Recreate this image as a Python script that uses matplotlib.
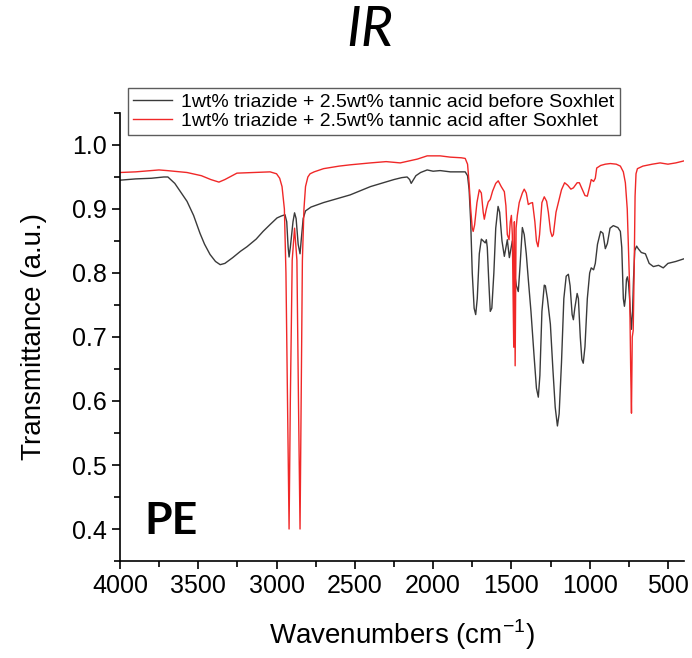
# IRスペクトル (PE) before / after Soxhlet
import matplotlib
matplotlib.use("Agg")
import matplotlib.pyplot as plt
from matplotlib import font_manager
from matplotlib.ticker import MultipleLocator

# before Soxhlet (black)
wn_before = [4000, 3900, 3800, 3720, 3694, 3650, 3600, 3572, 3530, 3489, 3460, 3425, 3390, 3360,
             3330, 3280, 3230, 3189, 3130, 3086, 3040, 2997, 2970, 2946, 2935, 2926, 2920, 2912,
             2895, 2885, 2875, 2862, 2850, 2843, 2830, 2815, 2780, 2700, 2600, 2530, 2450, 2400,
             2319, 2250, 2200, 2166, 2150, 2140, 2130, 2110, 2080, 2038, 2000, 1955, 1890, 1820,
             1795, 1780, 1770, 1760, 1750, 1738, 1728, 1718, 1705, 1692, 1679, 1667, 1660, 1654,
             1645, 1635, 1625, 1612, 1600, 1585, 1575, 1560, 1545, 1535, 1526, 1513, 1505, 1494,
             1480, 1468, 1456, 1445, 1430, 1418, 1405, 1392, 1375, 1355, 1340, 1328, 1318, 1305,
             1290, 1283, 1270, 1251, 1235, 1220, 1206, 1195, 1180, 1165, 1150, 1136, 1125, 1112,
             1104, 1095, 1080, 1072, 1060, 1050, 1041, 1030, 1015, 1000, 990, 975, 964, 950, 930,
             915, 900, 887, 870, 849, 820, 804, 795, 785, 778, 772, 765, 759, 752, 745, 738, 733,
             726, 720, 712, 700, 690, 670, 644, 620, 593, 560, 530, 500, 450, 400]
T_before = [0.945, 0.947, 0.948, 0.950, 0.950, 0.940, 0.922, 0.912, 0.890, 0.862, 0.845, 0.829, 0.818, 0.813,
            0.815, 0.824, 0.834, 0.841, 0.853, 0.865, 0.876, 0.886, 0.889, 0.891, 0.880, 0.840, 0.825, 0.840,
            0.880, 0.894, 0.885, 0.845, 0.830, 0.850, 0.885, 0.897, 0.903, 0.910, 0.917, 0.922, 0.930, 0.935,
            0.941, 0.946, 0.949, 0.950, 0.946, 0.940, 0.944, 0.952, 0.957, 0.961, 0.959, 0.960, 0.958, 0.958,
            0.958, 0.952, 0.930, 0.880, 0.800, 0.745, 0.735, 0.760, 0.830, 0.853, 0.850, 0.847, 0.852, 0.840,
            0.790, 0.740, 0.745, 0.800, 0.870, 0.904, 0.895, 0.850, 0.826, 0.840, 0.852, 0.824, 0.835, 0.850,
            0.800, 0.780, 0.771, 0.810, 0.871, 0.860, 0.830, 0.790, 0.740, 0.670, 0.620, 0.606, 0.640, 0.740,
            0.781, 0.780, 0.760, 0.720, 0.650, 0.590, 0.561, 0.580, 0.660, 0.760, 0.795, 0.798, 0.780, 0.735,
            0.727, 0.745, 0.768, 0.760, 0.700, 0.665, 0.659, 0.685, 0.760, 0.800, 0.808, 0.805, 0.815, 0.845, 0.865,
            0.862, 0.838, 0.846, 0.870, 0.874, 0.871, 0.865, 0.840, 0.760, 0.748, 0.760, 0.790, 0.794, 0.785, 0.760, 0.730, 0.712,
            0.740, 0.790, 0.835, 0.842, 0.838, 0.832, 0.830, 0.815, 0.810, 0.812, 0.808, 0.815, 0.818, 0.822]

# after Soxhlet (red)
wn_after = [4000, 3900, 3800, 3751, 3700, 3572, 3480, 3420, 3368, 3330, 3253, 3150, 3041, 3000, 2980,
            2965, 2950, 2940, 2930, 2920, 2912, 2900, 2885, 2870, 2860, 2850, 2843, 2835, 2825, 2815,
            2800, 2786, 2760, 2700, 2600, 2530, 2400, 2300, 2210, 2100, 2038, 1955, 1890, 1820, 1795,
            1780, 1770, 1760, 1750, 1744, 1735, 1720, 1705, 1692, 1680, 1673, 1660, 1648, 1635, 1620,
            1600, 1584, 1565, 1545, 1535, 1526, 1515, 1507, 1500, 1494, 1485, 1481, 1476, 1470, 1462,
            1450, 1430, 1418, 1405, 1392, 1379, 1365, 1350, 1340, 1330, 1320, 1305, 1290, 1275, 1264,
            1250, 1240, 1232, 1215, 1200, 1180, 1160, 1140, 1120, 1104, 1080, 1066, 1050, 1030, 1015,
            1000, 990, 975, 964, 955, 930, 900, 868, 830, 804, 785, 772, 760, 745, 738, 733, 728, 722,
            716, 710, 704, 695, 660, 600, 550, 500, 450, 400]
T_after = [0.957, 0.958, 0.960, 0.961, 0.960, 0.957, 0.952, 0.946, 0.942, 0.946, 0.956, 0.957, 0.958, 0.955, 0.948,
           0.935, 0.900, 0.800, 0.600, 0.400, 0.600, 0.820, 0.870, 0.820, 0.600, 0.400, 0.600, 0.820, 0.900, 0.935,
           0.950, 0.955, 0.958, 0.963, 0.967, 0.969, 0.972, 0.974, 0.972, 0.978, 0.983, 0.983, 0.981, 0.980, 0.979,
           0.970, 0.940, 0.900, 0.870, 0.865, 0.875, 0.910, 0.930, 0.925, 0.895, 0.884, 0.900, 0.911, 0.915, 0.928,
           0.940, 0.944, 0.935, 0.927, 0.905, 0.860, 0.852, 0.880, 0.890, 0.860, 0.684, 0.880, 0.655, 0.870, 0.890,
           0.910, 0.925, 0.931, 0.925, 0.907, 0.909, 0.910, 0.880, 0.850, 0.841, 0.860, 0.910, 0.919, 0.912, 0.895,
           0.865, 0.857, 0.860, 0.895, 0.910, 0.930, 0.941, 0.937, 0.931, 0.933, 0.941, 0.941, 0.932, 0.921, 0.920,
           0.935, 0.946, 0.943, 0.948, 0.964, 0.968, 0.970, 0.971, 0.970, 0.967, 0.958, 0.941, 0.900, 0.780, 0.650, 0.581, 0.700, 0.710,
           0.800, 0.920, 0.955, 0.963, 0.967, 0.970, 0.972, 0.970, 0.972, 0.975]

label_before = "1wt% triazide + 2.5wt% tannic acid before Soxhlet"
label_after = "1wt% triazide + 2.5wt% tannic acid after Soxhlet"

installed = {f.name for f in font_manager.fontManager.ttflist}
narrow = "Liberation Sans Narrow" if "Liberation Sans Narrow" in installed else "Liberation Sans"
plt.rcParams["font.family"] = [narrow, "DejaVu Sans"]


def draw_graph():
    fig = plt.figure(figsize=(6.92, 6.58), dpi=100)
    ax = fig.add_axes([0.1734, 0.1474, 0.8156, 0.6809])

    ax.plot(wn_before, T_before, color="#3a3a3a", lw=1.0, label=label_before)
    ax.plot(wn_after, T_after, color="#f02828", lw=1.0, label=label_after)

    ax.set_xlim(4000, 395)
    ax.set_ylim(0.35, 1.05)
    ax.xaxis.set_major_locator(MultipleLocator(500))
    ax.xaxis.set_minor_locator(MultipleLocator(250))
    ax.yaxis.set_major_locator(MultipleLocator(0.1))
    ax.yaxis.set_minor_locator(MultipleLocator(0.05))
    ax.spines["top"].set_visible(False)
    ax.spines["right"].set_visible(False)
    ax.tick_params(which="major", direction="out", length=6, width=1.2, labelsize=18)
    ax.tick_params(which="minor", direction="out", length=4, width=1.2)
    for s in ("left", "bottom"):
        ax.spines[s].set_linewidth(1.2)

    ax.set_xlabel("Wavenumbers (cm$^{\\mathregular{-1}}$)", fontsize=20, labelpad=14)
    ax.set_ylabel("Transmittance (a.u.)", fontsize=20, labelpad=18)

    ax.text(0.044, 0.06, "PE", transform=ax.transAxes, fontsize=32,
            fontweight="bold", family=["Lato", "DejaVu Sans"])
    fig.text(0.535, 0.953, "IR", ha="center", va="center", fontsize=40,
             style="italic", family=["Lato", "DejaVu Sans"])

    leg = fig.legend(loc="upper left", bbox_to_anchor=(0.185, 0.866),
                     frameon=True, fancybox=False,
                     borderpad=0.25, handlelength=2.0, handletextpad=0.5,
                     labelspacing=0.1, borderaxespad=0,
                     prop={"family": ["Liberation Sans", "DejaVu Sans"], "size": 14})
    leg.get_frame().set_edgecolor("#333333")
    leg.get_frame().set_linewidth(1.0)

    fig.savefig("out.png", dpi=100)


if __name__ == "__main__":
    draw_graph()
